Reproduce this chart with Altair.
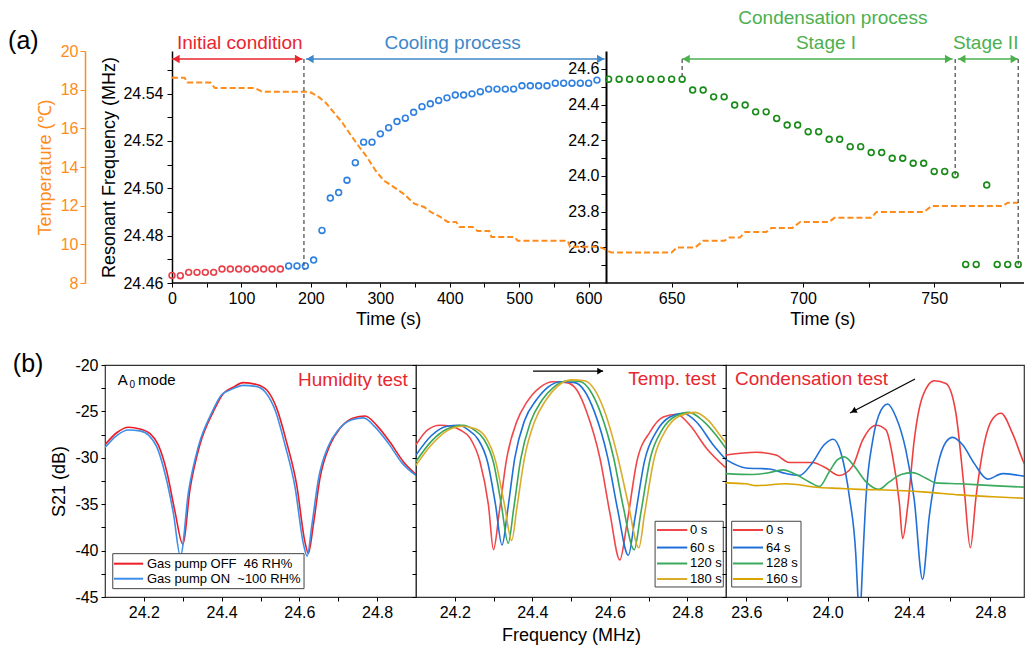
import altair as alt
import pandas as pd

FONT = "Liberation Sans"
ORANGE = "#FF8C1A"
RED_PT = "#E8404A"
BLUE_PT = "#2F80E0"
GREEN_PT = "#178A17"
RED_TXT = "#E8262F"
BLUE_TXT = "#3E87C8"
GREEN_TXT = "#4DB04F"
GRAY = "#555555"

# ---------------- (a) data ----------------
red_t = [0, 12, 24, 36, 48, 60, 72, 84, 96, 108, 120, 132, 144, 156]
red_f = [24.4632, 24.4631, 24.4645, 24.4645, 24.4645, 24.4645, 24.4659, 24.4659,
         24.4659, 24.4659, 24.4659, 24.4659, 24.4659, 24.4659]

blue_t = [168, 180, 192, 204, 216, 228, 240, 252, 264, 276, 288, 300, 312, 324, 336,
          348, 360, 372, 384, 396, 408, 420, 432, 444, 456, 468, 480, 492, 504, 516,
          528, 540, 552, 564, 576, 588, 600, 612]
blue_f = [24.4672, 24.4672, 24.4672, 24.4697, 24.4822, 24.4959, 24.4982, 24.5034,
          24.5108, 24.5195, 24.5195, 24.5230, 24.5256, 24.5282, 24.5296, 24.5321,
          24.5345, 24.5357, 24.5371, 24.5382, 24.5394, 24.5394, 24.5399, 24.5408,
          24.5419, 24.5419, 24.5419, 24.5419, 24.5433, 24.5433, 24.5433, 24.5433,
          24.5444, 24.5444, 24.5444, 24.5444, 24.5444, 24.5457]

green_t = [626, 630, 634, 638, 642, 646, 650, 654,
           658, 662, 666, 670, 674, 678, 682, 686, 690, 694, 698, 702, 706, 710, 714,
           718, 722, 726, 730, 734, 738, 742, 746, 750, 754, 758,
           762, 766, 770, 774, 778, 782]
green_f = [24.542, 24.542, 24.542, 24.542, 24.542, 24.542, 24.542, 24.542,
           24.481, 24.481, 24.443, 24.443, 24.397, 24.397, 24.359, 24.359, 24.322,
           24.285, 24.285, 24.248, 24.248, 24.205, 24.205, 24.164, 24.164, 24.131,
           24.131, 24.099, 24.099, 24.071, 24.071, 24.025, 24.025, 24.006,
           23.504, 23.504, 23.949, 23.504, 23.504, 23.504]

temp_t = [0, 18, 22, 55, 62, 118, 124, 130, 195, 200, 209, 221, 233, 245, 258, 270,
          281, 293, 305, 318, 334, 349, 363, 373, 387, 397, 409, 414, 433, 440, 457,
          460, 493, 498, 570, 573, 614, 620, 627, 650, 652, 659, 662, 670, 672, 676,
          678, 686, 688, 696, 699, 710, 712, 726, 728, 746, 749, 776, 778, 782]
temp_v = [18.62, 18.62, 18.37, 18.37, 18.08, 18.08, 18.0, 17.89, 17.89, 17.85, 17.68,
          17.34, 16.82, 16.31, 15.62, 15.02, 14.5, 13.82, 13.3, 13.0, 12.6, 12.1,
          11.93, 11.67, 11.41, 11.16, 11.16, 10.9, 10.9, 10.69, 10.69, 10.38, 10.38,
          10.18, 10.18, 9.87, 9.87, 9.8, 9.58, 9.58, 9.84, 9.84, 10.18, 10.18, 10.35,
          10.35, 10.64, 10.64, 10.85, 10.85, 11.16, 11.16, 11.37, 11.37, 11.67, 11.67,
          11.98, 11.98, 12.15, 12.15]

# annotations of (a), in time / right-axis frequency units
arrow_start = [0, 193, 654, 759]
arrow_end = [188, 623, 757, 782]
arrow_color = [RED_TXT, BLUE_TXT, GREEN_TXT, GREEN_TXT]
arrow_y = 24.655

vline_t = [190, 654, 758, 782]
vline_bottom = [23.473, 24.542, 24.006, 23.504]

note_text = ["Initial condition", "Cooling process", "Stage I", "Stage II", "Condensation process"]
note_t = [97.6, 404, 708.8, 769.6, 711.4]
note_y = [24.745, 24.745, 24.745, 24.745, 24.886]
note_color = [RED_TXT, BLUE_TXT, GREEN_TXT, GREEN_TXT, GREEN_TXT]

time_title_t = [312, 707.6]
time_title_y = 23.192

x_ticks = [0, 50, 100, 150, 200, 250, 300, 350, 400, 450, 500, 550, 600,
           650, 675, 700, 725, 750, 775]
x_labels = [0, 100, 200, 300, 400, 500, 600, 650, 700, 750]
temp_ticks = [8, 10, 12, 14, 16, 18, 20]
freqL_ticks = [24.46, 24.47, 24.48, 24.49, 24.50, 24.51, 24.52, 24.53, 24.54, 24.55]
freqR_ticks = [23.5, 23.6, 23.7, 23.8, 23.9, 24.0, 24.1, 24.2, 24.3, 24.4, 24.5, 24.6]

TOP_W, TOP_H = 919, 232
X_DOMAIN = [-96.86, 0, 625, 784.2]
X_RANGE = [0, 67, 501, 919]

xscale = alt.Scale(domain=X_DOMAIN, range=X_RANGE, nice=False, zero=False)
YT = alt.Scale(domain=[8, 20], nice=False, zero=False)
YL = alt.Scale(domain=[24.46, 24.558], nice=False, zero=False)
YR = alt.Scale(domain=[23.4, 24.7], nice=False, zero=False)

x_axis = alt.Axis(values=x_ticks, orient="bottom", domain=False, tickSize=4,
                  labelPadding=3, labelOverlap=False, labelFlush=False, grid=False,
                  labelExpr="indexof(%s, datum.value) >= 0 ? datum.label : ''" % str(x_labels),
                  title="")


def xt(field):
    return alt.X(field, type="quantitative", scale=xscale, axis=x_axis)


def yr(field):
    return alt.Y(field, type="quantitative", scale=YR, axis=None)


temp_df = pd.DataFrame({"t": temp_t, "T": temp_v})
temp_layer = alt.Chart(temp_df).mark_line(color=ORANGE, strokeDash=[6, 3], strokeWidth=2).encode(
    x=xt("t"),
    y=alt.Y("T:Q", scale=YT, axis=alt.Axis(
        orient="left", offset=20, values=temp_ticks, title="Temperature (℃)",
        titleColor=ORANGE, labelColor=ORANGE, domainColor=ORANGE, tickColor=ORANGE,
        domainWidth=1.5, tickSize=5, labelPadding=2, titlePadding=6, grid=False)),
)

red_df = pd.DataFrame({"t": red_t, "f": red_f})
red_layer = alt.Chart(red_df).mark_point(shape="circle", filled=False, size=34,
                                         strokeWidth=1.6, color=RED_PT, opacity=1).encode(
    x=xt("t"),
    y=alt.Y("f:Q", scale=YL, axis=alt.Axis(
        orient="left", offset=-67, values=freqL_ticks, title="Resonant Frequency (MHz)",
        labelExpr="round(datum.value * 100) % 2 == 0 ? format(datum.value, '.2f') : ''",
        domainWidth=1.5, tickSize=5, labelPadding=4, titlePadding=4, grid=False)),
)

blue_df = pd.DataFrame({"t": blue_t, "f": blue_f})
blue_layer = alt.Chart(blue_df).mark_point(shape="circle", filled=False, size=34,
                                           strokeWidth=1.6, color=BLUE_PT, opacity=1).encode(
    x=xt("t"),
    y=alt.Y("f:Q", scale=YL, axis=None),
)

green_df = pd.DataFrame({"t": green_t, "f": green_f})
green_layer = alt.Chart(green_df).mark_point(shape="circle", filled=False, size=34,
                                             strokeWidth=1.6, color=GREEN_PT, opacity=1).encode(
    x=xt("t"),
    y=alt.Y("f:Q", scale=YR, axis=alt.Axis(
        orient="left", offset=-501, values=freqR_ticks, title="",
        labelExpr="round(datum.value * 10) % 2 == 0 ? format(datum.value, '.1f') : ''",
        domainWidth=2, tickSize=5, labelPadding=2, grid=False)),
)

vline_df = pd.DataFrame({"t": vline_t, "y1": [arrow_y] * len(vline_t), "y2": vline_bottom})
vline_layer = alt.Chart(vline_df).mark_rule(color=GRAY, strokeDash=[4, 3], strokeWidth=1.3).encode(
    x=xt("t"), y=yr("y1"), y2="y2")

arrow_df = pd.DataFrame({"a": arrow_start, "b": arrow_end, "y": [arrow_y] * 4, "c": arrow_color})
arrow_layer = alt.Chart(arrow_df).mark_rule(strokeWidth=1.6).encode(
    x=xt("a"), x2="b", y=yr("y"), color=alt.Color("c:N", scale=None))
head_r = alt.Chart(arrow_df).mark_point(shape="triangle-right", filled=True, size=70,
                                        opacity=1, xOffset=-4).encode(
    x=xt("b"), y=yr("y"), color=alt.Color("c:N", scale=None))
head_l = alt.Chart(arrow_df).mark_point(shape="triangle-left", filled=True, size=70,
                                        opacity=1, xOffset=4).encode(
    x=xt("a"), y=yr("y"), color=alt.Color("c:N", scale=None))

note_df = pd.DataFrame({"t": note_t, "y": note_y, "s": note_text, "c": note_color})
note_layer = alt.Chart(note_df).mark_text(fontSize=19, baseline="middle", align="center").encode(
    x=xt("t"), y=yr("y"), text="s:N", color=alt.Color("c:N", scale=None))

tt_df = pd.DataFrame({"t": time_title_t, "y": [time_title_y] * 2, "s": ["Time (s)"] * 2})
tt_layer = alt.Chart(tt_df).mark_text(fontSize=18, baseline="middle", align="center",
                                      color="black").encode(
    x=xt("t"), y=yr("y"), text="s:N")

panel_a_df = pd.DataFrame({"t": [-237], "y": [24.756], "s": ["(a)"]})
panel_a_layer = alt.Chart(panel_a_df).mark_text(fontSize=25, baseline="middle", align="left",
                                                color="black").encode(
    x=xt("t"), y=yr("y"), text="s:N")

base_df = pd.DataFrame({"a": [0], "b": [784.2], "y": [23.4]})
base_layer = alt.Chart(base_df).mark_rule(color="black", strokeWidth=1.5).encode(
    x=xt("a"), x2="b", y=yr("y"))

top = alt.layer(
    temp_layer, red_layer, blue_layer, green_layer, vline_layer, arrow_layer,
    head_r, head_l, note_layer, tt_layer, panel_a_layer, base_layer,
).resolve_scale(y="independent").properties(
    width=TOP_W, height=TOP_H, view=alt.ViewBackground(stroke=None))

# ---------------- (b) data ----------------
hum_labels = ["Gas pump OFF\u00a0 46 RH%", "Gas pump ON\u00a0 ~100 RH%"]
hum_colors = ["#EE1C25", "#3D8FE8"]
hum_off_f = [24.10, 24.13, 24.16, 24.19, 24.216, 24.237, 24.259, 24.28, 24.30, 24.319,
             24.344, 24.379, 24.404, 24.43, 24.456, 24.49, 24.516, 24.542, 24.567,
             24.593, 24.614, 24.623, 24.636, 24.653, 24.679, 24.705, 24.739, 24.769,
             24.799, 24.833, 24.867, 24.90]
hum_off_s = [-28.6, -27.3, -26.7, -26.9, -27.4, -28.6, -31.5, -35.8, -39.3, -33.3,
             -28.6, -25.0, -23.1, -22.4, -21.9, -22.1, -22.7, -24.7, -28.3, -32.9,
             -39.0, -40.3, -37.2, -32.2, -28.6, -26.8, -25.7, -25.5, -26.5, -28.3,
             -30.4, -31.8]
hum_on_f = [24.10, 24.13, 24.16, 24.19, 24.213, 24.233, 24.255, 24.276, 24.294, 24.315,
            24.34, 24.375, 24.40, 24.427, 24.455, 24.488, 24.512, 24.538, 24.563,
            24.589, 24.61, 24.62, 24.632, 24.649, 24.675, 24.70, 24.735, 24.765,
            24.795, 24.83, 24.865, 24.90]
hum_on_s = [-28.9, -27.6, -27.0, -27.1, -27.6, -28.8, -31.8, -36.0, -40.6, -33.6,
            -28.8, -25.1, -23.2, -22.6, -22.2, -22.3, -22.9, -24.9, -28.6, -33.2,
            -39.2, -40.6, -37.3, -32.3, -28.7, -27.0, -25.9, -25.7, -26.7, -28.5,
            -30.6, -31.9]

tmp_labels = ["0 s", "60 s", "120 s", "180 s"]
tmp_colors = ["#F0474B", "#1F6FD9", "#3AA85A", "#D9AD2B"]
tmp0_f = [24.10, 24.13, 24.162, 24.19, 24.214, 24.24, 24.265, 24.287, 24.30, 24.315,
          24.334, 24.36, 24.386, 24.42, 24.454, 24.489, 24.515, 24.54, 24.575, 24.601,
          24.626, 24.644, 24.67, 24.704, 24.738, 24.773, 24.807, 24.85, 24.90]
tmp0_s = [-28.6, -27.0, -26.5, -26.6, -27.0, -27.9, -30.4, -35.1, -39.9, -35.8,
          -30.1, -26.1, -24.0, -22.4, -21.8, -21.9, -22.7, -25.0, -30.1, -36.1,
          -41.0, -37.2, -30.4, -27.2, -25.6, -25.3, -26.5, -29.0, -31.1]
tmp60_f = [24.10, 24.14, 24.18, 24.21, 24.235, 24.26, 24.285, 24.305, 24.322, 24.337,
           24.355, 24.38, 24.41, 24.44, 24.475, 24.51, 24.535, 24.56, 24.595, 24.62,
           24.648, 24.665, 24.69, 24.72, 24.755, 24.79, 24.825, 24.865, 24.90]
tmp60_s = [-29.7, -27.6, -26.6, -26.5, -27.0, -28.0, -30.5, -35.0, -39.4, -35.5,
           -30.0, -26.0, -23.8, -22.4, -21.8, -21.9, -22.8, -25.0, -30.0, -35.5,
           -40.5, -36.5, -30.3, -27.2, -25.6, -25.2, -26.2, -28.5, -30.2]
tmp120_f = [24.10, 24.14, 24.18, 24.22, 24.25, 24.275, 24.30, 24.32, 24.338, 24.352,
            24.37, 24.395, 24.425, 24.455, 24.49, 24.525, 24.55, 24.575, 24.61, 24.635,
            24.663, 24.68, 24.705, 24.735, 24.77, 24.805, 24.84, 24.875, 24.90]
tmp120_s = [-30.4, -28.2, -26.9, -26.5, -27.0, -28.0, -30.5, -35.0, -39.2, -35.5,
            -30.2, -26.2, -23.8, -22.4, -21.7, -21.8, -22.8, -25.0, -30.0, -35.3,
            -39.9, -36.0, -30.0, -27.0, -25.5, -25.1, -26.0, -27.6, -29.0]
tmp180_f = [24.10, 24.14, 24.18, 24.22, 24.255, 24.28, 24.305, 24.328, 24.347, 24.36,
            24.38, 24.405, 24.435, 24.465, 24.50, 24.535, 24.56, 24.585, 24.62, 24.648,
            24.675, 24.69, 24.715, 24.745, 24.78, 24.82, 24.855, 24.885, 24.90]
tmp180_s = [-30.8, -28.6, -27.1, -26.6, -26.9, -27.8, -30.3, -35.0, -38.9, -35.5,
            -30.0, -26.2, -23.8, -22.3, -21.6, -21.7, -22.6, -24.8, -29.8, -35.0,
            -39.7, -36.0, -30.0, -27.0, -25.5, -25.1, -26.0, -27.6, -28.4]

con_labels = ["0 s", "64 s", "128 s", "160 s"]
con_colors = ["#EE4040", "#2070D8", "#3AAA5E", "#D9A300"]
con0_f = [23.50, 23.648, 23.746, 23.811, 23.926, 23.992, 24.057, 24.123, 24.172, 24.238,
          24.287, 24.32, 24.353, 24.369, 24.394, 24.426, 24.467, 24.525, 24.582, 24.631,
          24.672, 24.702, 24.73, 24.771, 24.812, 24.853, 24.91, 24.967, 25.0]
con0_s = [-29.7, -29.4, -29.7, -30.5, -30.5, -31.1, -31.9, -30.9, -28.1, -26.5,
          -27.0, -29.9, -34.9, -38.7, -35.2, -28.1, -23.4, -21.7, -22.0, -25.2,
          -33.4, -39.7, -34.2, -28.4, -25.8, -25.2, -27.4, -30.6, -31.9]
con64_f = [23.50, 23.598, 23.713, 23.795, 23.861, 23.926, 23.983, 24.028, 24.066, 24.107,
           24.139, 24.15, 24.157, 24.164, 24.172, 24.189, 24.222, 24.262, 24.295, 24.336,
           24.385, 24.426, 24.467, 24.50, 24.541, 24.582, 24.615, 24.664, 24.721, 24.787,
           24.861, 24.943, 25.0]
con64_s = [-30.2, -31.1, -31.2, -31.7, -31.9, -30.5, -28.6, -28.0, -29.5, -34.2,
           -40.6, -45.5, -49.0, -45.5, -41.5, -34.2, -28.1, -24.9, -24.2, -25.6,
           -29.2, -34.5, -43.1, -36.3, -30.9, -28.3, -27.8, -28.6, -30.6, -32.3,
           -31.7, -31.9, -32.1]
con128_f = [23.50, 23.631, 23.713, 23.779, 23.844, 23.91, 23.959, 24.008, 24.049, 24.082,
            24.131, 24.189, 24.251, 24.303, 24.361, 24.418, 24.484, 24.533, 24.648, 24.812,
            25.0]
con128_s = [-31.7, -31.8, -31.6, -31.3, -31.8, -32.6, -33.1, -31.5, -30.2, -29.9,
            -30.9, -32.6, -33.4, -32.6, -31.8, -31.6, -32.2, -32.7, -32.8, -33.0,
            -33.2]
con160_f = [23.50, 23.598, 23.648, 23.795, 23.959, 24.057, 24.156, 24.32, 24.484, 24.648,
            24.812, 25.0]
con160_s = [-32.7, -32.8, -33.0, -32.8, -33.2, -33.3, -33.4, -33.5, -33.7, -34.0,
            -34.2, -34.4]

y_ticks = [-45, -42.5, -40, -37.5, -35, -32.5, -30, -27.5, -25, -22.5, -20]
x_ticks_ab = [24.2, 24.3, 24.4, 24.5, 24.6, 24.7, 24.8]
x_ticks_c = [23.6, 23.8, 24.0, 24.2, 24.4, 24.6, 24.8]

YB = alt.Scale(domain=[-45, -20], nice=False, zero=False)
BOT_H = 232


def curves(labels, fs, ss):
    rows = []
    for lab, f, s in zip(labels, fs, ss):
        for a, b in zip(f, s):
            rows.append({"series": lab, "f": a, "s": b})
    return pd.DataFrame(rows)


def panel(width, xdom, xvals, xlabexpr, labels, colors, cdf, leg, texts_l, texts_r,
          extra, show_y, xtitle):
    xs = alt.Scale(domain=xdom, nice=False, zero=False)
    color = alt.Color("series:N", scale=alt.Scale(domain=labels, range=colors), legend=None)
    if show_y:
        yaxis = alt.Axis(values=y_ticks, title="S21 (dB)", domain=False, tickSize=4,
                         labelPadding=3, titlePadding=6, grid=False,
                         labelExpr="datum.value % 5 == 0 ? '' + datum.value : ''")
    else:
        yaxis = alt.Axis(values=y_ticks, labels=False, title="", domain=False,
                         tickSize=4, grid=False)
    xaxis = alt.Axis(values=xvals, labelExpr=xlabexpr, title=xtitle, domain=False,
                     tickSize=4, labelPadding=3, titlePadding=6, labelFlush=False,
                     labelOverlap=False, grid=False)

    def X(field):
        return alt.X(field, type="quantitative", scale=xs, axis=xaxis)

    def Y(field):
        return alt.Y(field, type="quantitative", scale=YB, axis=yaxis)

    layers = [alt.Chart(cdf).mark_line(interpolate="monotone", strokeWidth=1.6, clip=True).encode(
        x=X("f"), y=Y("s"), color=color, detail="series:N")]

    box_df = pd.DataFrame({"x1": [leg["box"][0]], "x2": [leg["box"][1]],
                           "y1": [leg["box"][2]], "y2": [leg["box"][3]]})
    layers.append(alt.Chart(box_df).mark_rect(fill="white", stroke="#444444", strokeWidth=1).encode(
        x=X("x1"), x2="x2", y=Y("y1"), y2="y2"))
    ldf = pd.DataFrame({"series": labels, "a": [leg["line"][0]] * len(labels),
                        "b": [leg["line"][1]] * len(labels), "tx": [leg["text"]] * len(labels),
                        "y": leg["rows"]})
    layers.append(alt.Chart(ldf).mark_rule(strokeWidth=2).encode(
        x=X("a"), x2="b", y=Y("y"), color=color))
    layers.append(alt.Chart(ldf).mark_text(align="left", baseline="middle", fontSize=13,
                                           color="black").encode(
        x=X("tx"), y=Y("y"), text="series:N"))
    for tdf, al in ((texts_l, "left"), (texts_r, "right")):
        if tdf is not None:
            layers.append(alt.Chart(tdf).mark_text(align=al, baseline="middle").encode(
                x=X("x"), y=Y("y"), text="s:N", color=alt.Color("c:N", scale=None),
                size=alt.Size("fs:Q", scale=None)))
    if extra is not None:
        adf = pd.DataFrame({"a": [extra[0]], "b": [extra[1]], "ya": [extra[2]], "yb": [extra[3]]})
        layers.append(alt.Chart(adf).mark_rule(color="black", strokeWidth=1.3).encode(
            x=X("a"), x2="b", y=Y("ya"), y2="yb"))
        layers.append(alt.Chart(adf).mark_point(shape="triangle-up", filled=True, size=45,
                                                opacity=1, color="black", angle=extra[4],
                                                xOffset=extra[5], yOffset=extra[6]).encode(
            x=X("b"), y=Y("yb")))
    return alt.layer(*layers).properties(
        width=width, height=BOT_H,
        view=alt.ViewBackground(stroke="#333333", strokeWidth=1.2))


lab_ab = "round(datum.value * 10) % 2 == 0 ? format(datum.value, '.1f') : ''"
lab_c = "round(datum.value * 10) % 4 == 0 ? format(datum.value, '.1f') : ''"

p1_texts_l = pd.DataFrame({"x": [24.133, 24.163, 24.185, 23.863],
                           "y": [-21.62, -22.2, -21.62, -19.84],
                           "s": ["A", "0", "mode", "(b)"],
                           "c": ["black", "black", "black", "black"],
                           "fs": [15, 10, 15, 25]})
p1_texts_r = pd.DataFrame({"x": [24.879], "y": [-21.62], "s": ["Humidity test"],
                           "c": [RED_TXT], "fs": [19]})
p1 = panel(311, [24.1, 24.9], x_ticks_ab, lab_ab, hum_labels, hum_colors,
           curves(hum_labels, [hum_off_f, hum_on_f], [hum_off_s, hum_on_s]),
           {"box": [24.12, 24.612, -40.33, -44.1], "line": [24.123, 24.198],
            "text": 24.208, "rows": [-41.41, -43.03]},
           p1_texts_l, p1_texts_r, None, True, "")

p2_texts_r = pd.DataFrame({"x": [24.874], "y": [-21.5], "s": ["Temp. test"],
                           "c": [RED_TXT], "fs": [19]})
p2 = panel(310, [24.1, 24.9], x_ticks_ab, lab_ab, tmp_labels, tmp_colors,
           curves(tmp_labels, [tmp0_f, tmp60_f, tmp120_f, tmp180_f],
                  [tmp0_s, tmp60_s, tmp120_s, tmp180_s]),
           {"box": [24.717, 24.893, -36.84, -43.92], "line": [24.722, 24.8],
            "text": 24.807, "rows": [-37.78, -39.67, -41.39, -43.06]},
           None, p2_texts_r, [24.402, 24.583, -20.65, -20.65, 90, -3, 0], False,
           "Frequency (MHz)")

p3_texts_l = pd.DataFrame({"x": [23.544], "y": [-21.5], "s": ["Condensation test"],
                           "c": [RED_TXT], "fs": [19]})
p3 = panel(298, [23.5, 24.966], x_ticks_c, lab_c, con_labels, con_colors,
           curves(con_labels, [con0_f, con64_f, con128_f, con160_f],
                  [con0_s, con64_s, con128_s, con160_s]),
           {"box": [23.528, 23.869, -36.84, -43.92], "line": [23.534, 23.682],
            "text": 23.697, "rows": [-37.78, -39.67, -41.39, -43.06]},
           p3_texts_l, None, [24.43, 24.11, -21.51, -25.17, 242, 3.5, -1.9], False, "")

bottom = alt.hconcat(p1, p2, p3, spacing=0, bounds="flush").resolve_scale(color="independent")

chart = alt.vconcat(top, bottom, spacing=20).resolve_scale(color="independent").properties(
    padding={"left": 0, "top": 0, "right": 0, "bottom": 0}
).configure(font=FONT).configure_axis(
    labelFont=FONT, titleFont=FONT, labelFontSize=16, titleFontSize=18,
    titleFontWeight="normal", labelColor="black", titleColor="black",
    domainColor="black", tickColor="black", grid=False
).configure_text(font=FONT)

chart.save("out.html", embed_options={"renderer": "svg", "actions": False})
